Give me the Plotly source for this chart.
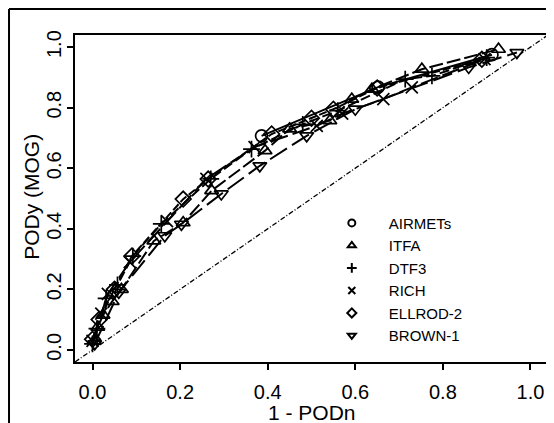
import plotly.graph_objects as go

# 1 - PODn (x) and PODy (y) pairs
AIRMETS_X = [0.386, 0.652, 0.912]
AIRMETS_Y = [0.707, 0.868, 0.975]

ITFA_X = [0.004, 0.012, 0.024, 0.045, 0.066, 0.14, 0.207, 0.272, 0.394, 0.45, 0.542, 0.592, 0.638, 0.752, 0.927]
ITFA_Y = [0.03, 0.075, 0.115, 0.16, 0.2, 0.36, 0.42, 0.526, 0.658, 0.73, 0.757, 0.828, 0.861, 0.927, 0.993]

DTF3_X = [0.0, 0.01, 0.031, 0.057, 0.092, 0.157, 0.27, 0.363, 0.48, 0.56, 0.714, 0.775, 0.9]
DTF3_Y = [0.02, 0.07, 0.17, 0.215, 0.31, 0.416, 0.565, 0.663, 0.745, 0.79, 0.894, 0.905, 0.965]

RICH_X = [0.0, 0.02, 0.035, 0.085, 0.17, 0.26, 0.37, 0.512, 0.57, 0.664, 0.729, 0.895]
RICH_Y = [0.03, 0.12, 0.185, 0.29, 0.425, 0.565, 0.67, 0.74, 0.78, 0.828, 0.867, 0.96]

ELLROD_X = [0.0, 0.015, 0.05, 0.09, 0.207, 0.264, 0.409, 0.5, 0.55, 0.65, 0.889]
ELLROD_Y = [0.035, 0.1, 0.2, 0.31, 0.498, 0.564, 0.713, 0.765, 0.795, 0.865, 0.96]

BROWN_X = [0.005, 0.06, 0.165, 0.203, 0.294, 0.382, 0.489, 0.6, 0.859, 0.969]
BROWN_Y = [0.02, 0.19, 0.377, 0.415, 0.515, 0.608, 0.707, 0.795, 0.933, 0.982]

DIAG = [-0.04, 1.04]
TICKS = [0.0, 0.2, 0.4, 0.6, 0.8, 1.0]
TICK_TEXT = ["0.0", "0.2", "0.4", "0.6", "0.8", "1.0"]

SERIES = [
    ("AIRMETs", AIRMETS_X, AIRMETS_Y, "circle-open", "solid"),
    ("ITFA", ITFA_X, ITFA_Y, "triangle-up-open", "14px,4px"),
    ("DTF3", DTF3_X, DTF3_Y, "cross-thin-open", "10px,4px"),
    ("RICH", RICH_X, RICH_Y, "x-thin-open", "18px,5px"),
    ("ELLROD-2", ELLROD_X, ELLROD_Y, "diamond-open", "8px,3px"),
    ("BROWN-1", BROWN_X, BROWN_Y, "triangle-down-open", "20px,6px"),
]

fig = go.Figure()

fig.add_trace(
    go.Scatter(
        x=DIAG,
        y=DIAG,
        mode="lines",
        line={"color": "black", "width": 1.3, "dash": "5px,2px,1px,2px"},
        showlegend=False,
        hoverinfo="skip",
    )
)

for name, xs, ys, symbol, dash in SERIES:
    fig.add_trace(
        go.Scatter(
            x=xs,
            y=ys,
            mode="lines+markers",
            line={"color": "black", "width": 2, "dash": dash},
            marker={"symbol": symbol, "size": 12, "color": "black", "line": {"color": "black", "width": 1.7}},
            showlegend=False,
            name=name,
        )
    )

# legend entries with smaller symbols, as in the original
for name, xs, ys, symbol, dash in SERIES:
    fig.add_trace(
        go.Scatter(
            x=[None],
            y=[None],
            mode="markers",
            marker={"symbol": symbol, "size": 7, "color": "black", "line": {"color": "black", "width": 2}},
            name=name,
        )
    )

axis_style = {
    "range": DIAG,
    "tickvals": TICKS,
    "ticktext": TICK_TEXT,
    "ticks": "outside",
    "ticklen": 6,
    "tickwidth": 1.5,
    "tickcolor": "black",
    "showline": True,
    "linecolor": "black",
    "linewidth": 2,
    "mirror": True,
    "showgrid": False,
    "zeroline": False,
    "automargin": False,
    "tickfont": {"size": 20, "color": "black"},
}

fig.update_xaxes(**axis_style, ticklabelstandoff=5)
fig.update_yaxes(**axis_style, tickangle=-90, ticklabelstandoff=-2)

# page body has an 8px margin, so the figure is 8px smaller than the window
fig.update_layout(
    width=546,
    height=415,
    paper_bgcolor="white",
    plot_bgcolor="white",
    font={"family": "Liberation Sans, Arial, sans-serif", "color": "black"},
    margin={"l": 67, "r": 6, "t": 27, "b": 61},
    legend={
        "x": 0.507,
        "y": 0.475,
        "xanchor": "left",
        "yanchor": "top",
        "bgcolor": "rgba(0,0,0,0)",
        "font": {"size": 15, "color": "black"},
        "itemwidth": 64,
        "tracegroupgap": 0,
    },
    annotations=[
        {"text": "1 - PODn", "xref": "paper", "yref": "paper", "x": 0.5, "y": -0.153,
         "xanchor": "center", "yanchor": "middle", "showarrow": False, "font": {"size": 21}},
        {"text": "PODy (MOG)", "xref": "paper", "yref": "paper", "x": -0.091, "y": 0.505, "textangle": -90,
         "xanchor": "center", "yanchor": "middle", "showarrow": False, "font": {"size": 21}},
    ],
    shapes=[
        {"type": "line", "xref": "paper", "yref": "paper", "x0": -0.1395, "x1": 1.013, "y0": 1.0795, "y1": 1.0795,
         "line": {"color": "black", "width": 2}},
        {"type": "line", "xref": "paper", "yref": "paper", "x0": -0.1395, "x1": -0.1395, "y0": 1.0795, "y1": -0.187,
         "line": {"color": "black", "width": 2}},
    ],
)

fig.write_html("out.html")
